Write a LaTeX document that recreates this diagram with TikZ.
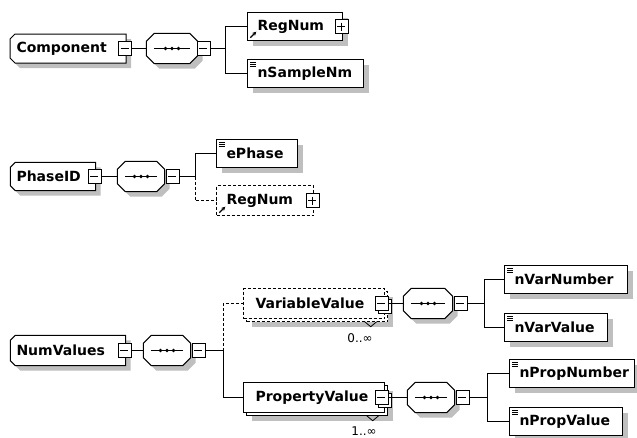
\documentclass[tikz,border=0pt]{standalone}
\usepackage{fontspec}
\setmainfont{DejaVu Sans}
\usetikzlibrary{shadows,arrows.meta}
\pgfdeclarelayer{bg}
\pgfsetlayers{bg,main}
\newcommand\simpleicon[1]{\draw[line width=1pt] ([shift={(3,3)}]#1.north west) -- ++(6,0) ([shift={(3,5)}]#1.north west) -- ++(6,0) ([shift={(3,7)}]#1.north west) -- ++(6,0);}
\newcommand\refarrow[1]{\draw[line width=1.2pt,-{Stealth[length=4pt,width=4pt]}] ([shift={(3,-3)}]#1.south west) -- ++(6,-6);}
\newcommand\rootpath[3]{([shift={(#2+5,#3)}]#1.north west) -- ([shift={(#2,#3)}]#1.north east) -- ([shift={(#2,#3)}]#1.south east) -- ([shift={(#2+5,#3)}]#1.south west) -- ([shift={(#2,#3-5)}]#1.south west) -- ([shift={(#2,#3+5)}]#1.north west) -- cycle}
\newcommand\octpath[3]{([shift={(#2+8,#3)}]#1.north west) -- ([shift={(#2-8,#3)}]#1.north east) -- ([shift={(#2,#3+8)}]#1.north east) -- ([shift={(#2,#3-8)}]#1.south east) -- ([shift={(#2-8,#3)}]#1.south east) -- ([shift={(#2+8,#3)}]#1.south west) -- ([shift={(#2,#3-8)}]#1.south west) -- ([shift={(#2,#3+8)}]#1.north west) -- cycle}
\newcommand\rootshape[1]{%
  \begin{pgfonlayer}{bg}
  \fill[gray!50] \rootpath{#1}{5}{5};
  \draw[draw=black,fill=white,line width=1pt] \rootpath{#1}{0}{0};
  \end{pgfonlayer}}
\newcommand\seqshape[1]{%
  \fill[gray!50] \octpath{#1}{5}{5};
  \draw[draw=black,fill=white,line width=1pt] \octpath{#1}{0}{0};
  \draw[line width=1pt] ([xshift=8pt]#1.west) -- ([xshift=-8pt]#1.east);
  \fill[black] (#1.center) circle (1.8pt) ([xshift=-6.5pt]#1.center) circle (1.8pt) ([xshift=6.5pt]#1.center) circle (1.8pt);}
\begin{document}
\begin{tikzpicture}[x=1pt,y=-1pt,line width=1pt,
  shd/.style={drop shadow={shadow xshift=5pt,shadow yshift=-5pt,opacity=1,fill=gray!50,draw=none}},
  stk/.style={drop shadow={shadow xshift=8pt,shadow yshift=-8pt,opacity=1,fill=gray!50,draw=none},copy shadow={shadow xshift=3pt,shadow yshift=-3pt}},
  stkx/.style={copy shadow={shadow xshift=3pt,shadow yshift=-3pt}},
  base/.style={font=\bfseries\fontsize{14}{16}\selectfont,inner ysep=0pt,align=left},
  root/.style={base,rectangle,inner xsep=6pt,text width=#1,minimum height=28pt},
  elem/.style={base,draw=black,fill=white,rectangle,inner xsep=10pt,text width=#1,minimum height=28pt},
  seq/.style={rectangle,minimum width=47pt,minimum height=30pt,inner sep=0pt},
  xbox/.style={draw=black,fill=white,rectangle,minimum width=13pt,minimum height=14pt,inner sep=0pt},
  xminus/.style={xbox,path picture={\draw ([xshift=2.5pt]path picture bounding box.west) -- ([xshift=-2.5pt]path picture bounding box.east);}},
  xplus/.style={xbox,path picture={\draw ([xshift=2.5pt]path picture bounding box.west) -- ([xshift=-2.5pt]path picture bounding box.east); \draw ([yshift=-3pt]path picture bounding box.north) -- ([yshift=3pt]path picture bounding box.south);}},
  opt/.style={dash pattern=on 3pt off 2pt},
  card/.style={font=\fontsize{12}{14}\selectfont,inner sep=0pt}
]
\useasboundingbox (0,0) rectangle (637,437);
% ---------- Component ----------
\node[root=103pt] (comp) at (68,48.5) {Component};
\rootshape{comp}
\node[xminus] (compx) at ([xshift=-1.5pt]comp.east) {};
\node[seq,minimum width=51pt] (seq1) at (172,48.5) {};
\seqshape{seq1}
\node[xminus] (seq1x) at ([xshift=5.5pt]seq1.east) {};
\draw (compx.east) -- (seq1.west);
\draw (seq1x.east) -- ++(15,0) coordinate (b1);
\node[elem=75pt,shd] (reg1) at (295,26.5) {RegNum};
\node[xplus] (reg1x) at ([xshift=-1.5pt]reg1.east) {};
\node[elem=96pt,shd] (sam1) at (305.5,73.5) {nSampleNm};
\draw (b1) |- (reg1.west);
\draw (b1) |- (sam1.west);
\refarrow{reg1}
\simpleicon{sam1}
% ---------- PhaseID ----------
\node[root=73pt] (phase) at (53,176.5) {PhaseID};
\rootshape{phase}
\node[xminus] (phasex) at ([xshift=-1.5pt]phase.east) {};
\node[seq] (seq2) at (141,176.5) {};
\seqshape{seq2}
\node[xminus] (seq2x) at ([xshift=7.5pt]seq2.east) {};
\draw (phasex.east) -- (seq2.west);
\draw (seq2x.east) -- ++(16,0) coordinate (b2);
\node[elem=61pt,shd] (eph) at (257,153.5) {ePhase};
\node[elem=77pt,opt,minimum height=30pt] (reg2) at (265,200.5) {RegNum};
\node[xplus] (reg2x) at ([xshift=-1.5pt]reg2.east) {};
\draw (b2) |- (eph.west);
\draw[opt] (b2) |- (reg2.west);
\simpleicon{eph}
\refarrow{reg2}
% ---------- NumValues ----------
\node[root=103pt,minimum height=30pt] (numv) at (68,350.5) {NumValues};
\rootshape{numv}
\node[xminus] (numvx) at ([xshift=-1.5pt]numv.east) {};
\node[seq] (seq3) at (167,350.5) {};
\seqshape{seq3}
\node[xminus] (seq3x) at ([xshift=7.5pt]seq3.east) {};
\draw (numvx.east) -- (seq3.west);
\draw (seq3x.east) -- ++(18,0) coordinate (b3);
\node[elem=117pt,stk,opt,inner xsep=12pt,minimum height=30pt] (varv) at (314,303.5) {VariableValue};
\node[xminus,stkx] (varvx) at ([xshift=-3.5pt]varv.east) {};
\node[elem=117pt,stk,inner xsep=12pt,minimum height=30pt] (propv) at (314,397.5) {PropertyValue};
\node[xminus,stkx] (propvx) at ([xshift=-3.5pt]propv.east) {};
\draw[opt] (b3) |- (varv.west);
\draw (b3) |- (propv.west);
\draw[line width=.8pt] ([shift={(-20,3)}]varv.south east) -- ++(6,5) -- ++(6,-5);
\draw[line width=.8pt] ([shift={(-18,3)}]propv.south east) -- ++(6,5) -- ++(6,-5);
\node[card] (c1) at (360,338) {0..∞};
\node[card] (c2) at (364,431) {1..∞};
% VariableValue sequence
\node[seq,minimum width=49pt] (seq4) at (428,303.5) {};
\seqshape{seq4}
\draw (varvx.east) -- (seq4.west);
\node[xminus] (seq4x) at ([xshift=7.5pt]seq4.east) {};
\draw (seq4x.east) -- ++(17,0) coordinate (b4);
\node[elem=103pt,shd] (nvn) at (566,279.5) {nVarNumber};
\node[elem=83pt,shd] (nvv) at (556,327.5) {nVarValue};
\draw (b4) |- (nvn.west);
\draw (b4) |- (nvv.west);
\simpleicon{nvn}
\simpleicon{nvv}
% PropertyValue sequence
\node[seq] (seq5) at (431,397.5) {};
\seqshape{seq5}
\draw (propvx.east) -- (seq5.west);
\node[xminus] (seq5x) at ([xshift=7.5pt]seq5.east) {};
\draw (seq5x.east) -- ++(18,0) coordinate (b5);
\node[elem=105pt,shd] (npn) at (572,373.5) {nPropNumber};
\node[elem=93pt,shd] (npv) at (566,421.5) {nPropValue};
\draw (b5) |- (npn.west);
\draw (b5) |- (npv.west);
\simpleicon{npn}
\simpleicon{npv}
\end{tikzpicture}
\end{document}
